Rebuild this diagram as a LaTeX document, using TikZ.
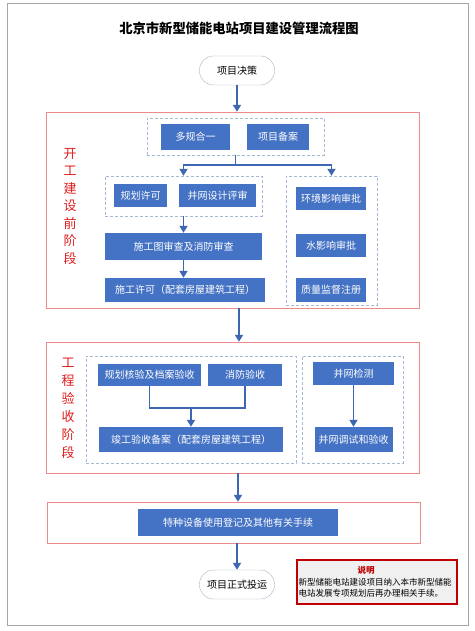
\documentclass[tikz,border=0pt]{standalone}
\usepackage{fontspec}
\setmainfont{Noto Sans CJK SC}
\usepackage[]{xcolor}
\usetikzlibrary{arrows.meta}
\definecolor{boxblue}{HTML}{4472C4}
\definecolor{lineblue}{HTML}{3D67B1}
\definecolor{dashgray}{HTML}{A6B8D4}
\definecolor{stgred}{HTML}{EE8C8C}
\definecolor{labred}{HTML}{E01B1B}
\definecolor{notered}{HTML}{C00000}
\definecolor{termgray}{HTML}{A9B2C2}
\definecolor{outgray}{HTML}{A6A6A6}
\tikzset{blk/.style = {fill=boxblue, text=white, inner sep=0, minimum height=23pt, font=\fontsize{10}{12}\selectfont}}
\tikzset{grp/.style = {draw=dashgray, dash pattern=on 3pt off 2pt, inner sep=0}}
\tikzset{stg/.style = {draw=stgred, inner sep=0, minimum width=373pt}}
\tikzset{term/.style = {draw=termgray, fill=white, rounded corners=14pt, inner sep=0, minimum width=75pt, minimum height=29pt, font=\fontsize{10}{12}\selectfont}}
\tikzset{conn/.style = {draw=lineblue, line width=1.8pt}}
\tikzset{arr/.style = {conn, -{Triangle[length=7pt,width=8pt]}}}
\tikzset{phase/.style = {text=labred, align=center, inner sep=0}}

\begin{document}
\begin{tikzpicture}[x=1pt, y=-1pt]
        \useasboundingbox (0,0) rectangle (474,631);
        \draw [outgray] (7,3) rectangle (468,625);
        \node[font=\fontsize{13.3}{15}\selectfont\bfseries] (title) at (239,28) {北京市新型储能电站项目建设管理流程图};
        \node[term] (xmjc) at (237,70.5) {项目决策};
        \node[stg, minimum height=196pt] (stg1) at (232.5,210) {};
        \node[stg, minimum height=131pt] (stg2) at (232.5,407.5) {};
        \node[stg, minimum height=41pt] (stg3) at (233.5,522.5) {};
        \node[phase, font=\fontsize{13}{17.5}\selectfont] (ph1) at (70,206.5) {开\\工\\建\\设\\前\\阶\\段};
        \node[phase, font=\fontsize{13}{18}\selectfont] (ph2) at (68,408) {工\\程\\验\\收\\阶\\段};
        % stage 1
        \node[grp, minimum width=177pt, minimum height=37pt] (g1) at (235.5,136.5) {};
        \node[blk, minimum width=69pt, minimum height=26pt] (dghy) at (195.5,137) {多规合一};
        \node[blk, minimum width=62pt, minimum height=26pt] (xmba) at (278,137) {项目备案};
        \node[grp, minimum width=157pt, minimum height=40pt] (g2) at (183.5,196) {};
        \node[blk, minimum width=53pt] (ghxk) at (140.5,195.5) {规划许可};
        \node[blk, minimum width=77pt] (bwsj) at (217.5,195.5) {并网设计评审};
        \node[blk, minimum width=157pt, minimum height=27pt] (sgtsc) at (183.5,246.5) {施工图审查及消防审查};
        \node[blk, minimum width=160pt, minimum height=24pt] (sgxk) at (185,290) {施工许可（配套房屋建筑工程）};
        \node[grp, minimum width=91pt, minimum height=129pt] (g3) at (331.5,240.5) {};
        \node[blk, minimum width=70pt] (hjyx) at (331,198.5) {环境影响审批};
        \node[blk, minimum width=70pt] (syx) at (331,245.5) {水影响审批};
        \node[blk, minimum width=70pt, minimum height=24pt] (zljd) at (331,290) {质量监督注册};
        % stage 2
        \node[grp, minimum width=210pt, minimum height=107pt] (g4) at (191,409.5) {};
        \node[blk, minimum width=103pt, minimum height=22pt] (ghhy) at (149.5,375) {规划核验及档案验收};
        \node[blk, minimum width=74pt, minimum height=22pt] (xfys) at (245,375) {消防验收};
        \node[blk, minimum width=184pt, minimum height=25pt] (jgys) at (191,439.5) {竣工验收备案（配套房屋建筑工程）};
        \node[grp, minimum width=101pt, minimum height=107pt] (g5) at (352.5,409.5) {};
        \node[blk, minimum width=81pt] (bwjc) at (353.5,373.5) {并网检测};
        \node[blk, minimum width=78pt, minimum height=25pt] (bwts) at (353.5,439.5) {并网调试和验收};
        % stage 3
        \node[blk, minimum width=200pt, minimum height=27pt] (tzsb) at (238,522.5) {特种设备使用登记及其他有关手续};
        \node[term] (zsty) at (237,584.5) {项目正式投运};
        \node[draw=notered, line width=1.6pt, fill=black!6, inner sep=0, minimum width=160pt, minimum height=44pt] (sm) at (377,582) {};
        \node[text=notered, inner sep=0, font=\fontsize{8.5}{10}\selectfont\bfseries] (smt) at (366,570.5) {说明};
        \node[anchor=west, align=left, inner sep=0, font=\fontsize{8.5}{11}\selectfont] (smb) at (298.5,587.5) {新型储能电站建设项目纳入本市新型储能\\电站发展专项规划后再办理相关手续。};
        % connectors
        \draw[arr] (xmjc.south) -- (xmjc.south |- stg1.north);
        \draw[conn] (g1.south) -- ++(0,10) coordinate (sp);
        \draw[arr] (sp) -| (g2.north);
        \draw[arr] (sp) -| (g3.north);
        \draw[arr] (g2.south) -- (sgtsc.north);
        \draw[arr] (sgtsc.south) -- (sgtsc.south |- sgxk.north);
        \draw[arr] (stg1.south -| 239,0) -- (stg2.north -| 239,0);
        \coordinate (mg) at (191,408);
        \draw[conn] (ghhy.south) |- (mg) -| (xfys.south);
        \draw[arr] (mg) -- (jgys.north);
        \draw[arr] (bwjc.south) -- (bwts.north);
        \draw[arr] (stg2.south -| 238,0) -- (stg3.north -| 238,0);
        \draw[arr] (stg3.south -| zsty.north) -- (zsty.north);
    \end{tikzpicture}
\end{document}
